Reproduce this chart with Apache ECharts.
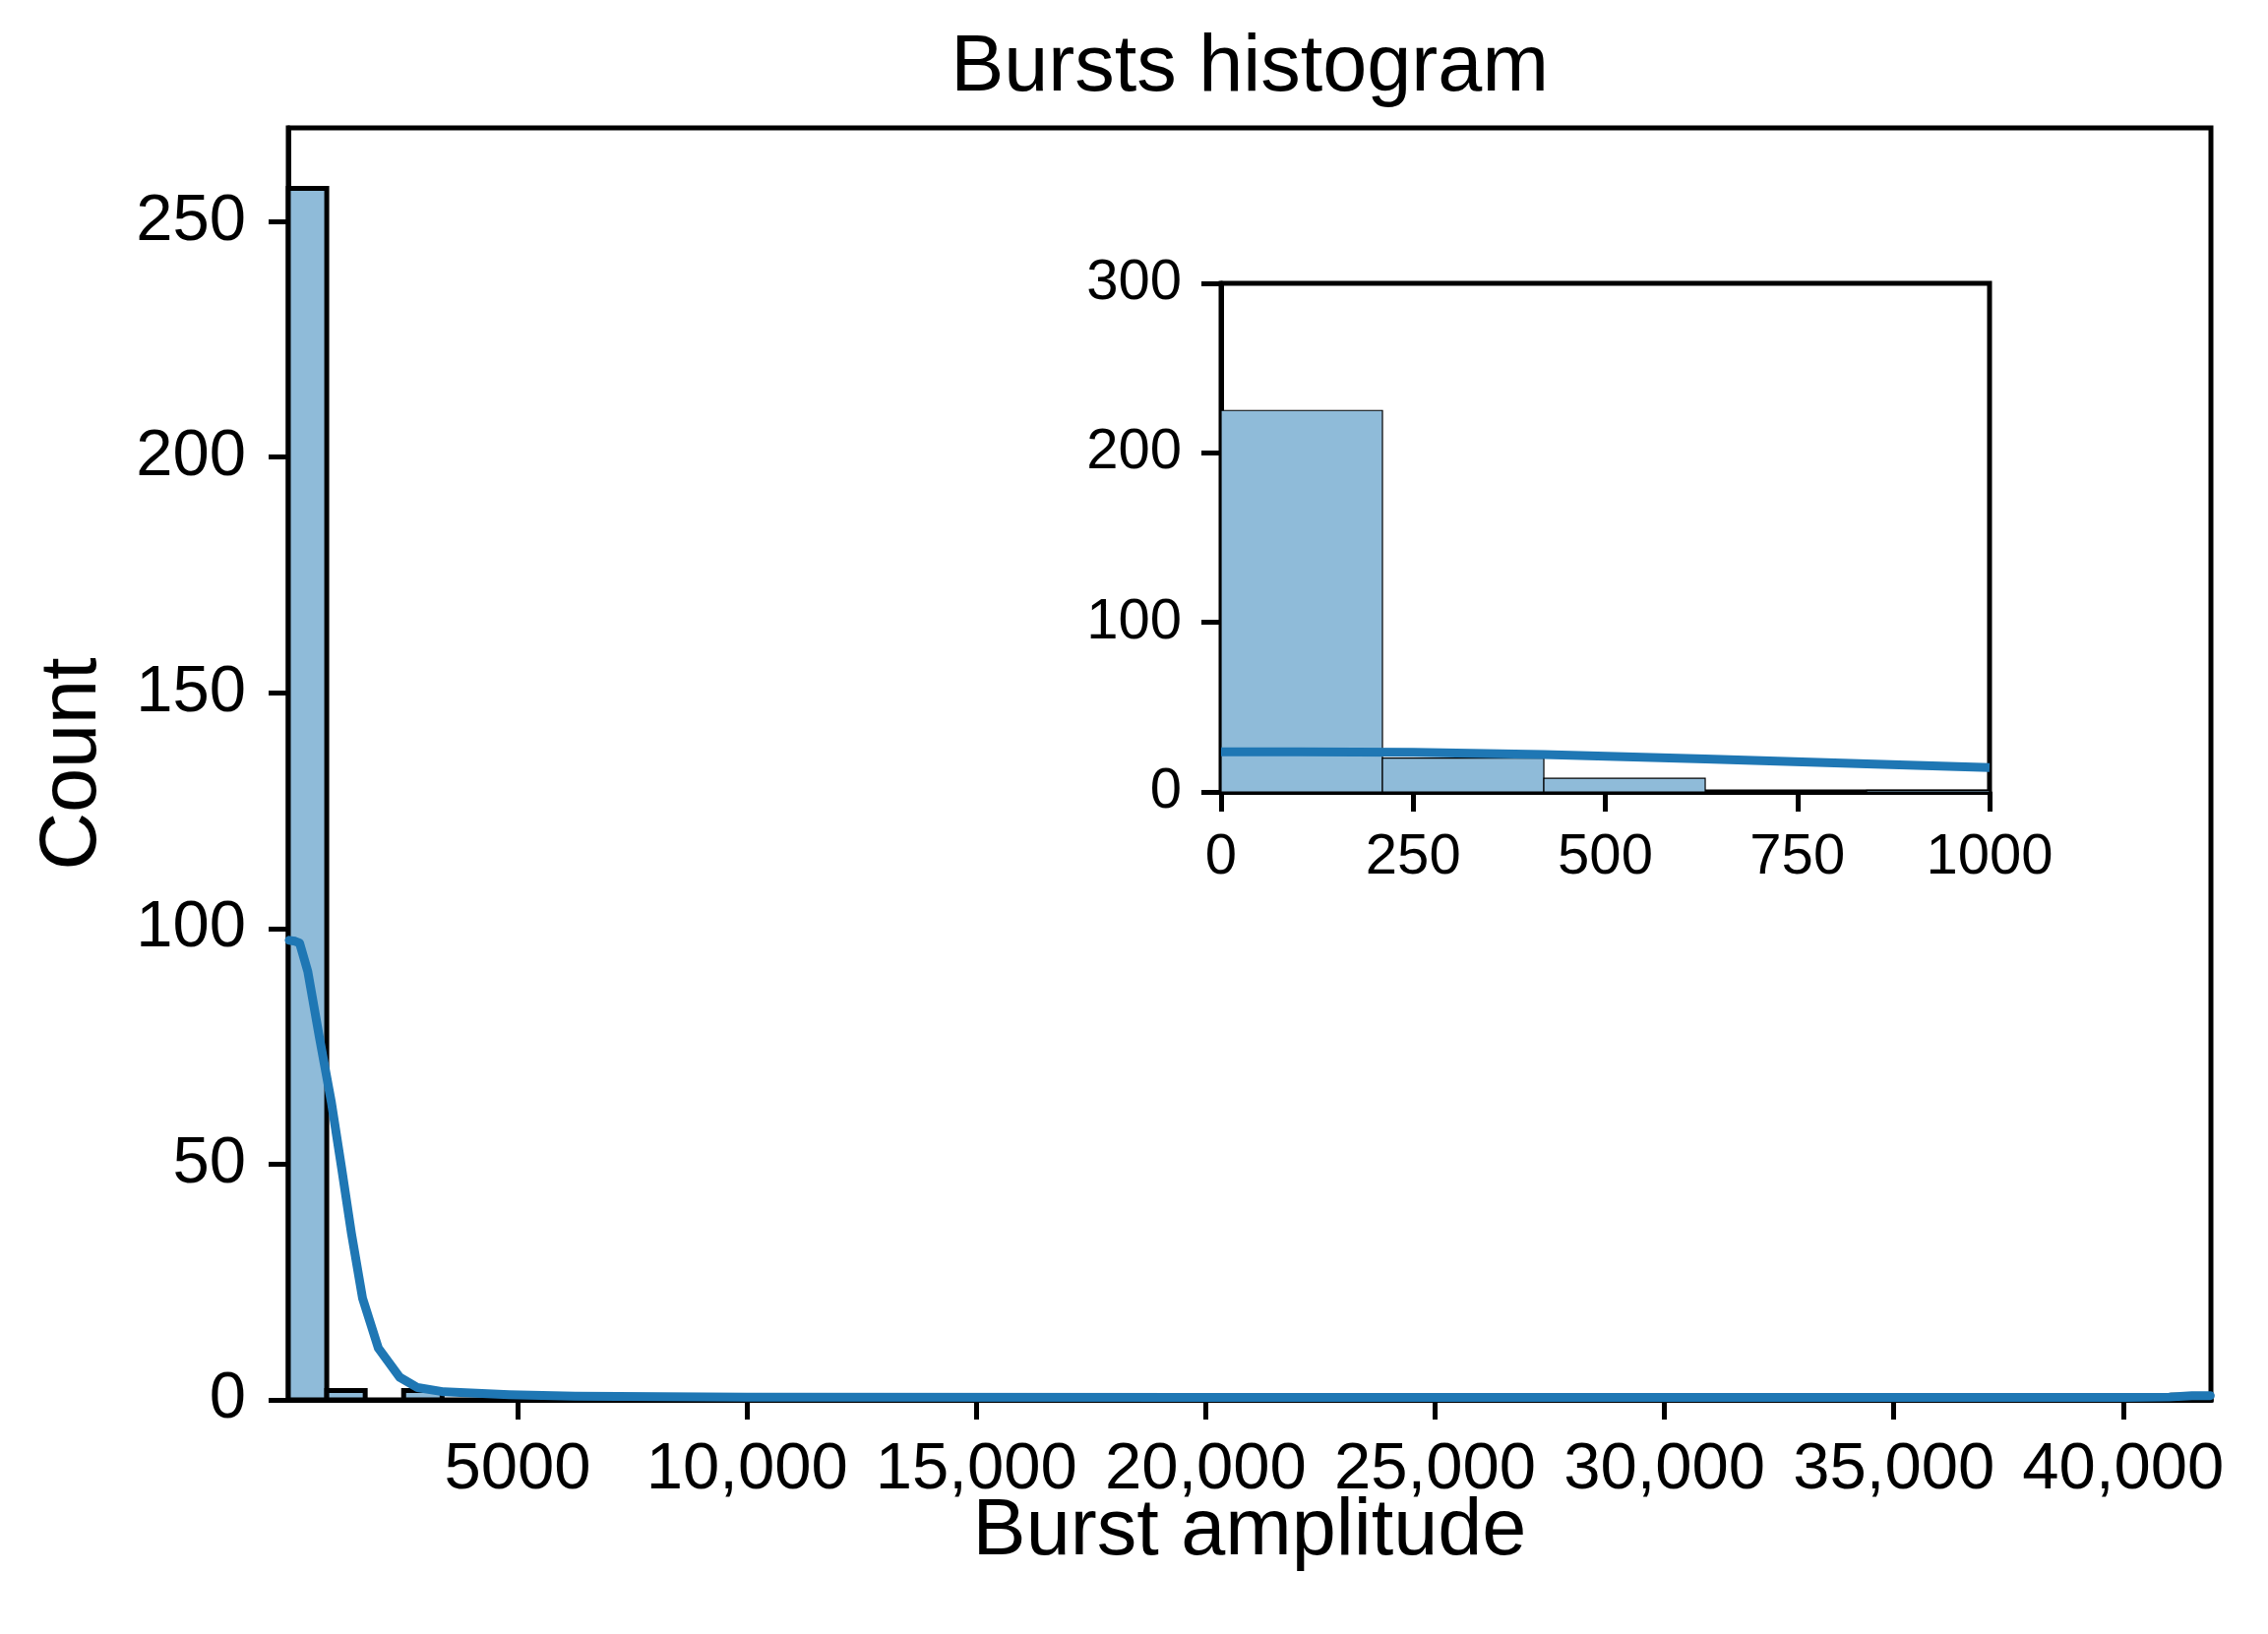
<!DOCTYPE html>
<html>
<head>
<meta charset="utf-8">
<script src="https://cdn.jsdelivr.net/npm/echarts@6/dist/echarts.min.js"></script>
<style>
  html, body { margin: 0; padding: 0; background: #fff; }
  #chart { width: 2305px; height: 1661px; }
</style>
</head>
<body>
<div id="chart"></div>
<script>
// ---------------- DATA ----------------
// Main histogram: 50 bins spanning the data range
const mainRangeMin = 0;
const mainRangeMax = 41913;
const mainCounts = [257, 2, 0, 2, 0, 0, 0, 0, 0, 0,
                    0, 0, 0, 0, 0, 0, 0, 0, 0, 0,
                    0, 0, 0, 0, 0, 0, 0, 0, 0, 0,
                    0, 0, 0, 0, 0, 0, 0, 0, 0, 0,
                    0, 0, 0, 0, 0, 0, 0, 0, 0, 1];
// KDE curve (count scale) of main plot
const mainKdeX = [20, 150, 247, 425, 676, 940, 1162, 1377, 1620, 1963, 2428, 2820, 3393, 4816, 6250, 10000, 20000, 30000, 40000, 41000, 41500, 41900];
const mainKdeY = [97.5, 97.3, 96.9, 90.9, 77, 63.1, 49.2, 35.3, 21.5, 11, 4.8, 2.6, 1.7, 1.1, 0.8, 0.6, 0.5, 0.5, 0.5, 0.6, 0.9, 0.9];
const mainXTicks = [5000, 10000, 15000, 20000, 25000, 30000, 35000, 40000];
const mainXTickLabels = ['5000', '10,000', '15,000', '20,000', '25,000', '30,000', '35,000', '40,000'];
const mainYTicks = [0, 50, 100, 150, 200, 250];
const mainYMax = 269.85;

// Inset histogram (zoom 0 - 1000)
const insetBinEdges = [0, 210, 420, 630, 840, 1050];
const insetCounts = [225, 20, 8, 0, 1];
const insetKdeX = [0, 100, 250, 420, 630, 840, 1000];
const insetKdeY = [23.7, 23.7, 23.3, 22, 19.5, 16.5, 14.3];
const insetXTicks = [0, 250, 500, 750, 1000];
const insetYTicks = [0, 100, 200, 300];

// ---------------- BUILD ----------------
const FONT = '"Liberation Sans", Arial, Helvetica, sans-serif';
const BAR_FILL = '#8fbbd9';
const LINE_BLUE = '#1f77b4';

const mainBinW = (mainRangeMax - mainRangeMin) / mainCounts.length;
const mainBars = [];
mainCounts.forEach((c, i) => {
  if (c > 0) mainBars.push([mainRangeMin + i * mainBinW, mainRangeMin + (i + 1) * mainBinW, c]);
});
const insetBars = [];
insetCounts.forEach((c, i) => {
  if (c > 0) insetBars.push([insetBinEdges[i], insetBinEdges[i + 1], c]);
});

function barRenderer(strokeW) {
  return function (params, api) {
    const p0 = api.coord([api.value(0), 0]);
    const p1 = api.coord([api.value(1), api.value(2)]);
    const rect = echarts.graphic.clipRectByRect({
      x: p0[0], y: p1[1], width: p1[0] - p0[0], height: p0[1] - p1[1]
    }, {
      x: params.coordSys.x, y: params.coordSys.y - 10,
      width: params.coordSys.width, height: params.coordSys.height + 10
    });
    if (!rect) return;
    return {
      type: 'rect',
      shape: rect,
      style: { fill: BAR_FILL, stroke: '#000', lineWidth: strokeW }
    };
  };
}

const chart = echarts.init(document.getElementById('chart'), null, { renderer: 'canvas' });

const axisCommon = {
  axisLine: { show: true, onZero: false, lineStyle: { color: '#000', width: 5 } },
  axisTick: { show: true, inside: false, length: 20, lineStyle: { color: '#000', width: 5 } },
  splitLine: { show: false }
};

const option = {
  backgroundColor: '#fff',
  animation: false,
  graphic: [{
    type: 'text', x: 1270, y: 70, z: 100,
    style: {
      text: 'Bursts histogram', fill: '#000', font: '81px ' + FONT,
      textAlign: 'center', textVerticalAlign: 'middle'
    }
  }],
  grid: [
    { left: 293, top: 130, width: 1954, height: 1293, show: true, borderColor: '#000', borderWidth: 5, backgroundColor: 'transparent', outerBoundsMode: 'none', containLabel: false },
    { left: 1241, top: 288, width: 781, height: 517, show: true, borderColor: '#000', borderWidth: 5, backgroundColor: '#fff', outerBoundsMode: 'none', containLabel: false, z: 10 }
  ],
  xAxis: [
    Object.assign({}, axisCommon, {
      type: 'value', gridIndex: 0, min: mainRangeMin, max: mainRangeMax,
      name: 'Burst amplitude', nameLocation: 'middle', nameGap: 94, nameMoveOverlap: false,
      nameTextStyle: { fontFamily: FONT, fontSize: 81, color: '#000', lineHeight: 81 },
      axisTick: Object.assign({}, axisCommon.axisTick, { customValues: mainXTicks }),
      axisLabel: {
        customValues: mainXTicks,
        formatter: v => { const k = mainXTicks.indexOf(v); return k >= 0 ? mainXTickLabels[k] : ''; },
        fontFamily: FONT, fontSize: 67, color: '#000', margin: 38, lineHeight: 67, hideOverlap: false
      }
    }),
    Object.assign({}, axisCommon, {
      type: 'value', gridIndex: 1, min: 0, max: 1000, interval: 250, z: 10,
      axisTick: Object.assign({}, axisCommon.axisTick, { customValues: insetXTicks }),
      axisLabel: { customValues: insetXTicks, formatter: v => String(v), fontFamily: FONT, fontSize: 58, color: '#000', margin: 38, lineHeight: 58, hideOverlap: false }
    })
  ],
  yAxis: [
    Object.assign({}, axisCommon, {
      type: 'value', gridIndex: 0, min: 0, max: mainYMax,
      name: 'Count', nameLocation: 'middle', nameGap: 178, nameRotate: 90,
      nameTextStyle: { fontFamily: FONT, fontSize: 81, color: '#000', lineHeight: 81 },
      axisTick: Object.assign({}, axisCommon.axisTick, { customValues: mainYTicks }),
      axisLabel: { customValues: mainYTicks, formatter: v => String(v), fontFamily: FONT, fontSize: 67, color: '#000', margin: 43, hideOverlap: false }
    }),
    Object.assign({}, axisCommon, {
      type: 'value', gridIndex: 1, min: 0, max: 300, interval: 100, z: 10,
      axisTick: Object.assign({}, axisCommon.axisTick, { customValues: insetYTicks }),
      axisLabel: { customValues: insetYTicks, formatter: v => String(v), fontFamily: FONT, fontSize: 58, color: '#000', margin: 40, hideOverlap: false }
    })
  ],
  series: [
    {
      type: 'custom', xAxisIndex: 0, yAxisIndex: 0, z: 2,
      renderItem: barRenderer(5),
      encode: { x: [0, 1], y: 2 },
      data: mainBars
    },
    {
      type: 'line', xAxisIndex: 0, yAxisIndex: 0, z: 3,
      data: mainKdeX.map((x, i) => [x, mainKdeY[i]]),
      showSymbol: false, smooth: false, clip: true,
      lineStyle: { color: LINE_BLUE, width: 9, cap: 'round', join: 'round' }
    },
    {
      type: 'custom', xAxisIndex: 1, yAxisIndex: 1, z: 11,
      renderItem: barRenderer(1.2),
      encode: { x: [0, 1], y: 2 },
      data: insetBars
    },
    {
      type: 'line', xAxisIndex: 1, yAxisIndex: 1, z: 12,
      data: insetKdeX.map((x, i) => [x, insetKdeY[i]]),
      showSymbol: false, smooth: false, clip: true,
      lineStyle: { color: LINE_BLUE, width: 9, cap: 'butt', join: 'round' }
    }
  ]
};
chart.setOption(option);
</script>
</body>
</html>
